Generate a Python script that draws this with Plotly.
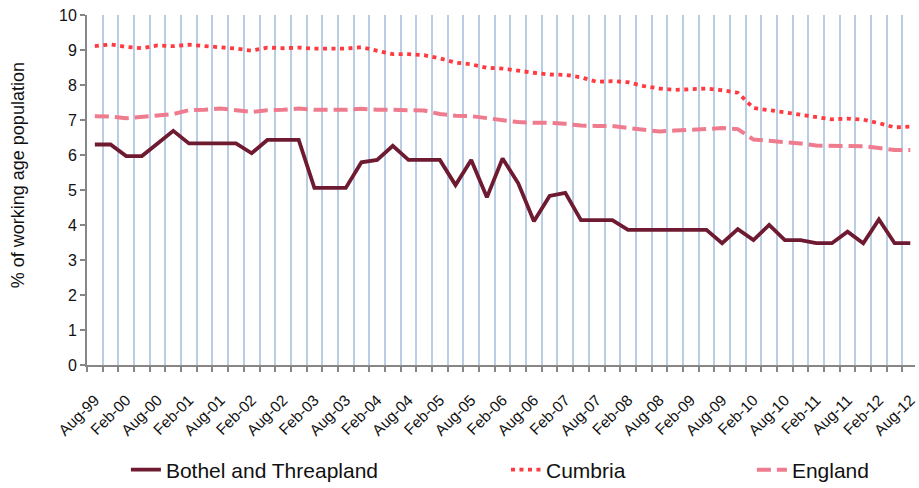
import plotly.graph_objects as go

# Quarterly categories Aug-99 .. Aug-12
months = ["Aug", "Nov", "Feb", "May"]
categories = []
yr = 1999
for k in range(53):
    m = months[k % 4]
    if m == "Feb":
        yr += 1
    categories.append(f"{m}-{yr % 100:02d}")

bothel = [6.30, 6.30, 5.97, 5.97, 6.33, 6.69, 6.33, 6.33, 6.33, 6.33,
          6.05, 6.43, 6.43, 6.43, 5.06, 5.06, 5.06, 5.79, 5.86, 6.26,
          5.86, 5.86, 5.86, 5.14, 5.86, 4.79, 5.90, 5.19, 4.11, 4.83,
          4.92, 4.14, 4.14, 4.14, 3.86, 3.86, 3.86, 3.86, 3.86, 3.86,
          3.48, 3.88, 3.57, 4.00, 3.57, 3.57, 3.48, 3.48, 3.81, 3.48,
          4.16, 3.48, 3.48]

cumbria = [9.11, 9.16, 9.09, 9.05, 9.13, 9.11, 9.15, 9.11, 9.09, 9.04,
           8.98, 9.07, 9.05, 9.07, 9.04, 9.03, 9.04, 9.08, 8.98, 8.88,
           8.88, 8.85, 8.76, 8.64, 8.59, 8.49, 8.47, 8.40, 8.35, 8.30,
           8.29, 8.22, 8.09, 8.11, 8.08, 7.97, 7.90, 7.86, 7.89, 7.90,
           7.85, 7.78, 7.34, 7.29, 7.22, 7.15, 7.09, 7.02, 7.04, 7.01,
           6.91, 6.79, 6.81]

england = [7.11, 7.10, 7.05, 7.09, 7.15, 7.17, 7.28, 7.29, 7.33, 7.28,
           7.23, 7.28, 7.29, 7.33, 7.29, 7.29, 7.29, 7.32, 7.29, 7.29,
           7.29, 7.27, 7.17, 7.12, 7.11, 7.06, 7.00, 6.94, 6.92, 6.92,
           6.89, 6.84, 6.83, 6.83, 6.77, 6.72, 6.67, 6.70, 6.71, 6.74,
           6.77, 6.74, 6.44, 6.41, 6.37, 6.33, 6.27, 6.26, 6.26, 6.25,
           6.20, 6.14, 6.14]

idx = list(range(len(categories)))
tick_idx = idx[::2]
tick_text = [categories[i] for i in tick_idx]
boundaries = [i - 0.5 for i in idx]

FONT = "Liberation Sans, Arial, sans-serif"

fig = go.Figure()
fig.add_trace(go.Scatter(x=idx, y=bothel, mode="lines", name="Bothel and Threapland",
                         line=dict(color="#6E1A30", width=3.8), legend="legend"))
fig.add_trace(go.Scatter(x=idx, y=cumbria, mode="lines", name="Cumbria",
                         line=dict(color="#FF3B40", width=3.8, dash="4px,4.5px"), legend="legend2"))
fig.add_trace(go.Scatter(x=idx, y=england, mode="lines", name="England",
                         line=dict(color="#EF7B8E", width=4, dash="14px,6px"), legend="legend3"))

legend_common = dict(orientation="h", yanchor="middle", y=-0.30, xanchor="left",
                     font=dict(family=FONT, size=21, color="#111111"),
                     bgcolor="rgba(0,0,0,0)")

fig.update_layout(
    width=919, height=488,
    showlegend=True,
    margin=dict(l=87, r=4, t=15, b=123, autoexpand=False),
    plot_bgcolor="white", paper_bgcolor="white",
    font=dict(family=FONT, color="#111111"),
    xaxis=dict(
        range=[-0.5, 52.3], automargin=False,
        tickmode="array", tickvals=tick_idx, ticktext=tick_text,
        tickangle=-45, ticks="outside", ticklen=18, tickcolor="rgba(0,0,0,0)",
        ticklabeloverflow="allow",
        showgrid=False,
        tickfont=dict(family=FONT, size=15.5, color="#111111"),
        showline=True, linecolor="#868686", linewidth=2,
        zeroline=False,
        minor=dict(tickmode="array", tickvals=boundaries, ticks="outside", ticklen=5,
                   tickcolor="#868686", tickwidth=1.5,
                   showgrid=True, gridcolor="#B9CDE5", gridwidth=2),
    ),
    yaxis=dict(
        range=[0, 10], dtick=1, tick0=0, automargin=False,
        ticks="outside", ticklen=5, tickcolor="#868686", tickwidth=1.5,
        showgrid=False, zeroline=False,
        showline=True, linecolor="#868686", linewidth=2,
        tickfont=dict(family=FONT, size=16, color="#111111"),
    ),
    annotations=[dict(text="% of working age population", xref="paper", yref="paper",
                      x=-0.083, y=0.543, xanchor="center", yanchor="middle",
                      textangle=-90, showarrow=False,
                      font=dict(family=FONT, size=18, color="#111111"))],
    legend=dict(x=0.047, **legend_common),
    legend2=dict(x=0.506, **legend_common),
    legend3=dict(x=0.803, **legend_common),
)

fig.write_html("out.html", config={"displayModeBar": False},
               post_script="document.body.style.margin='0';document.body.style.padding='0';")
